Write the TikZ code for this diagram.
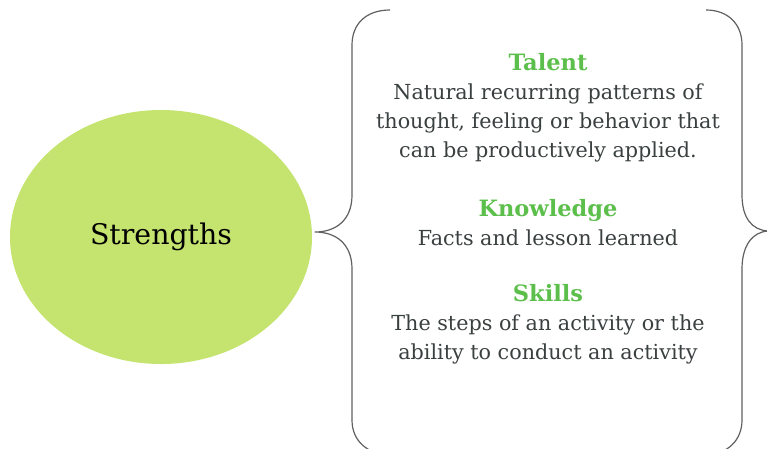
\documentclass[tikz,border=0pt]{standalone}
\usepackage{fontspec}
\setmainfont{DejaVu Serif}
\usetikzlibrary{shapes.geometric}
\definecolor{leafgreen}{HTML}{C5E46F}
\definecolor{headgreen}{HTML}{5CBF4B}
\definecolor{bodygrey}{HTML}{3A3F3F}
\definecolor{bracegrey}{HTML}{606060}

\newcommand{\headline}[1]{{\color{headgreen}\fontsize{22.5}{29}\selectfont\bfseries #1}}

\begin{document}
\begin{tikzpicture}[x=1pt,y=-1pt,
	brace/.style={draw=bracegrey, line width=1.2pt, line join=round},
	block/.style={align=center, text=bodygrey, inner sep=0pt, font=\fontsize{20.7}{29}\selectfont}]
	\useasboundingbox (0,0) rectangle (767,448);
	% Ellipse
	\node[ellipse, fill=leafgreen, minimum width=302pt, minimum height=254pt, inner sep=0pt,
		font=\fontsize{28.4}{32}\selectfont] (strengths) at (161,237) {Strengths};
	% Left brace
	\draw[brace] (390,10) .. controls (366,10) and (352,24) .. (352,45)
		-- (352,195) .. controls (352,220) and (336,232) .. (315,232)
		.. controls (336,232) and (352,244) .. (352,269)
		-- (352,420) .. controls (352,440) and (366,454) .. (390,455);
	% Right brace
	\draw[brace] (706,10) .. controls (728,10) and (742,24) .. (742,45)
		-- (742,195) .. controls (742,218) and (752,230) .. (768,231)
		.. controls (752,232) and (742,246) .. (742,269)
		-- (742,420) .. controls (742,440) and (728,454) .. (706,455);
	% Text blocks
	\node[block] (talent) at (548,108) {\headline{Talent}\\
		Natural recurring patterns of\\ thought, feeling or behavior that\\ can be productively applied.};
	\node[block] (knowledge) at (548,223) {\headline{Knowledge}\\ Facts and lesson learned};
	\node[block] (skills) at (548,324) {\headline{Skills}\\
		The steps of an activity or the\\ ability to conduct an activity};
\end{tikzpicture}
\end{document}
